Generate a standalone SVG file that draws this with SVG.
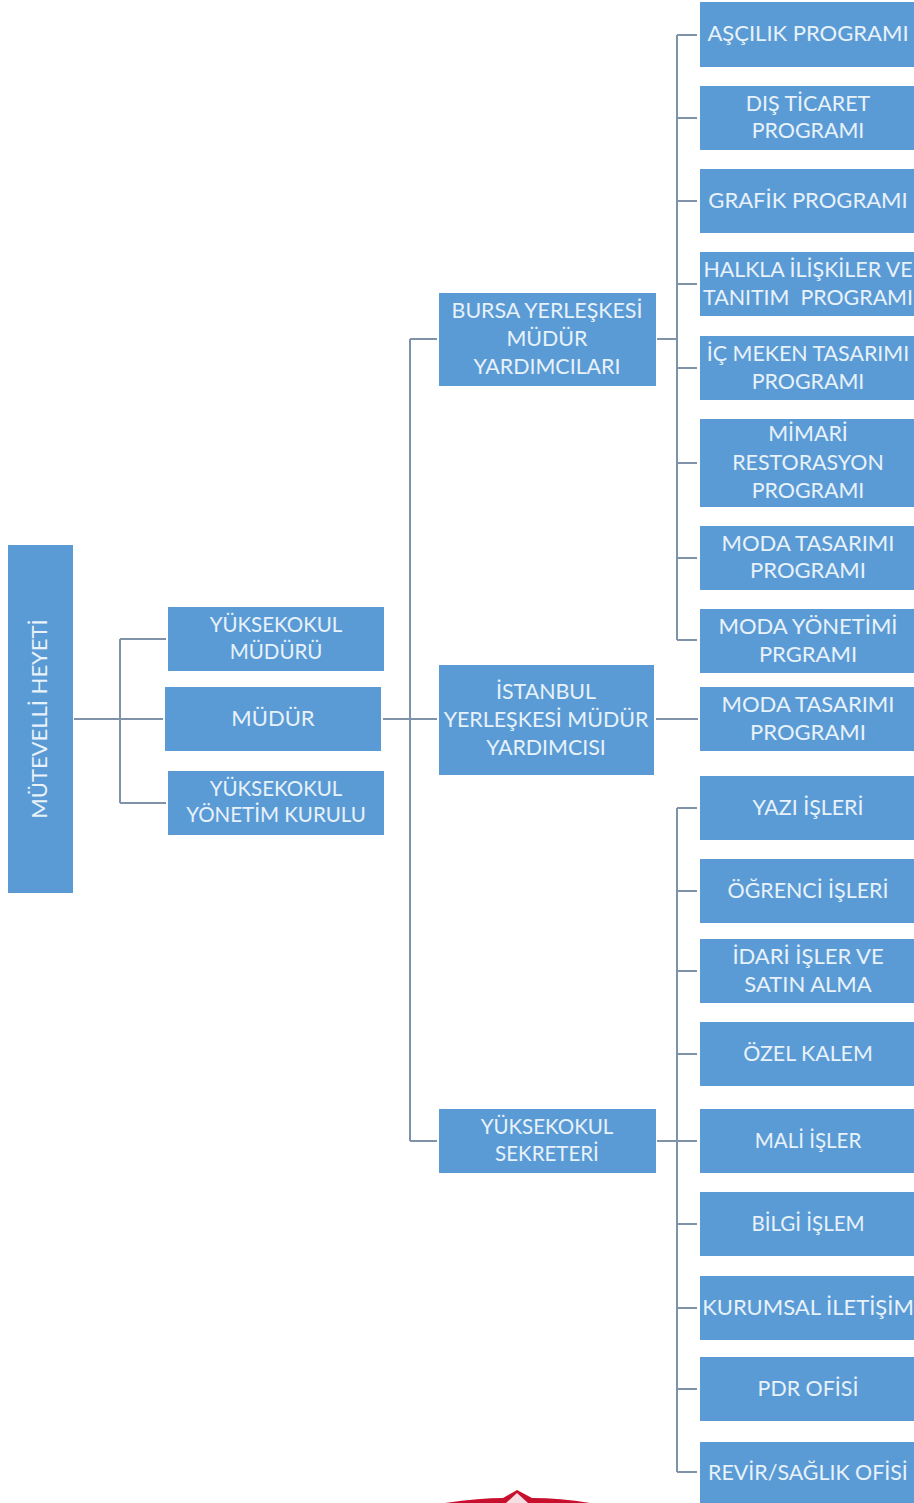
<svg xmlns="http://www.w3.org/2000/svg" width="914" height="1503" viewBox="0 0 914 1503">
<style>
.n{fill:#5b9bd5}
.t{font-family:Lato,"Open Sans","Liberation Sans",sans-serif;font-size:22px;fill:#e8f2fa;text-anchor:middle;white-space:pre}
.m{font-size:21.4px}
.s{font-size:20.5px}
.c{fill:none;stroke:#7f93a8;stroke-width:2}
</style>
<rect width="914" height="1503" fill="#fff"/>
<g id="connectors" class="c">
<path d="M74 719H163M120 639V803M120 639H166M120 803H166"/>
<path d="M383 719H437M410 339V1141M410 339H437M410 1141H437"/>
<path d="M657 339H677M677 35V640M677 35H697M677 118H697M677 201H697M677 284H697M677 368H697M677 463H697M677 558H697M677 640H697"/>
<path d="M656 719H698"/>
<path d="M657 1141H697M677 808V1472M677 808H697M677 891H697M677 971H697M677 1054H697M677 1224H697M677 1308H697M677 1389H697M677 1472H697"/>
</g>
<g id="n-mutevelli"><rect class="n" x="8" y="545" width="65" height="348"/><text class="t" transform="translate(47 719) rotate(-90)">MÜTEVELLİ HEYETİ</text></g>
<g id="n-yuksekokul-muduru"><rect class="n" x="168" y="607" width="216" height="64"/><text class="t s" x="276" y="632">YÜKSEKOKUL</text><text class="t s" x="276" y="659">MÜDÜRÜ</text></g>
<g id="n-mudur"><rect class="n" x="165" y="687" width="216" height="64"/><text class="t" x="273" y="726">MÜDÜR</text></g>
<g id="n-yonetim"><rect class="n" x="168" y="771" width="216" height="64"/><text class="t s" x="276" y="796">YÜKSEKOKUL</text><text class="t s" x="276" y="822">YÖNETİM KURULU</text></g>
<g id="n-bursa"><rect class="n" x="439" y="293" width="217" height="93"/><text class="t m" x="547" y="318">BURSA YERLEŞKESİ</text><text class="t m" x="547" y="346">MÜDÜR</text><text class="t m" x="547" y="374">YARDIMCILARI</text></g>
<g id="n-istanbul"><rect class="n" x="439" y="665" width="215" height="110"/><text class="t m" x="546" y="699">İSTANBUL</text><text class="t m" x="546" y="727">YERLEŞKESİ MÜDÜR</text><text class="t m" x="546" y="755">YARDIMCISI</text></g>
<g id="n-sekreter"><rect class="n" x="439" y="1109" width="217" height="64"/><text class="t s" x="547" y="1134">YÜKSEKOKUL</text><text class="t s" x="547" y="1161">SEKRETERİ</text></g>
<g id="n-ascilik"><rect class="n" x="700" y="2" width="214" height="65"/><text class="t" x="808" y="41">AŞÇILIK PROGRAMI</text></g>
<g id="n-dis"><rect class="n" x="700" y="86" width="214" height="64"/><text class="t m" x="808" y="111">DIŞ TİCARET</text><text class="t m" x="808" y="138">PROGRAMI</text></g>
<g id="n-grafik"><rect class="n" x="700" y="169" width="214" height="64"/><text class="t" x="808" y="208">GRAFİK PROGRAMI</text></g>
<g id="n-halkla"><rect class="n" x="700" y="252" width="214" height="64"/><text class="t m" x="808" y="277">HALKLA İLİŞKİLER VE</text><text class="t m" x="808" y="305">TANITIM  PROGRAMI</text></g>
<g id="n-ic"><rect class="n" x="700" y="336" width="214" height="64"/><text class="t m" x="808" y="361">İÇ MEKEN TASARIMI</text><text class="t m" x="808" y="389">PROGRAMI</text></g>
<g id="n-mimari"><rect class="n" x="700" y="419" width="214" height="88"/><text class="t m" x="808" y="441">MİMARİ</text><text class="t m" x="808" y="470">RESTORASYON</text><text class="t m" x="808" y="498">PROGRAMI</text></g>
<g id="n-moda1"><rect class="n" x="700" y="526" width="214" height="64"/><text class="t" x="808" y="551">MODA TASARIMI</text><text class="t" x="808" y="578">PROGRAMI</text></g>
<g id="n-modayon"><rect class="n" x="700" y="609" width="214" height="64"/><text class="t" x="808" y="634">MODA YÖNETİMİ</text><text class="t" x="808" y="662">PRGRAMI</text></g>
<g id="n-moda2"><rect class="n" x="700" y="687" width="214" height="64"/><text class="t" x="808" y="712">MODA TASARIMI</text><text class="t" x="808" y="740">PROGRAMI</text></g>
<g id="n-yazi"><rect class="n" x="700" y="776" width="214" height="64"/><text class="t m" x="808" y="815">YAZI İŞLERİ</text></g>
<g id="n-ogrenci"><rect class="n" x="700" y="859" width="214" height="64"/><text class="t m" x="808" y="898">ÖĞRENCİ İŞLERİ</text></g>
<g id="n-idari"><rect class="n" x="700" y="939" width="214" height="64"/><text class="t" x="808" y="964">İDARİ İŞLER VE</text><text class="t" x="808" y="992">SATIN ALMA</text></g>
<g id="n-ozel"><rect class="n" x="700" y="1022" width="214" height="64"/><text class="t m" x="808" y="1061">ÖZEL KALEM</text></g>
<g id="n-mali"><rect class="n" x="700" y="1109" width="214" height="64"/><text class="t s" x="808" y="1148">MALİ İŞLER</text></g>
<g id="n-bilgi"><rect class="n" x="700" y="1192" width="214" height="64"/><text class="t s" x="808" y="1231">BİLGİ İŞLEM</text></g>
<g id="n-kurumsal"><rect class="n" x="700" y="1276" width="214" height="64"/><text class="t" x="808" y="1315">KURUMSAL İLETİŞİM</text></g>
<g id="n-pdr"><rect class="n" x="700" y="1357" width="214" height="64"/><text class="t m" x="808" y="1396">PDR OFİSİ</text></g>
<g id="n-revir"><rect class="n" x="700" y="1442" width="214" height="61"/><text class="t m" x="808" y="1480">REVİR/SAĞLIK OFİSİ</text></g>
<path d="M445 1503Q480 1498 503 1498L517 1490L532 1498Q560 1498 590 1503Z" fill="#c8102e"/>
<path d="M506 1503L517 1493L528 1503Z" fill="#f6dfe2"/>
</svg>
